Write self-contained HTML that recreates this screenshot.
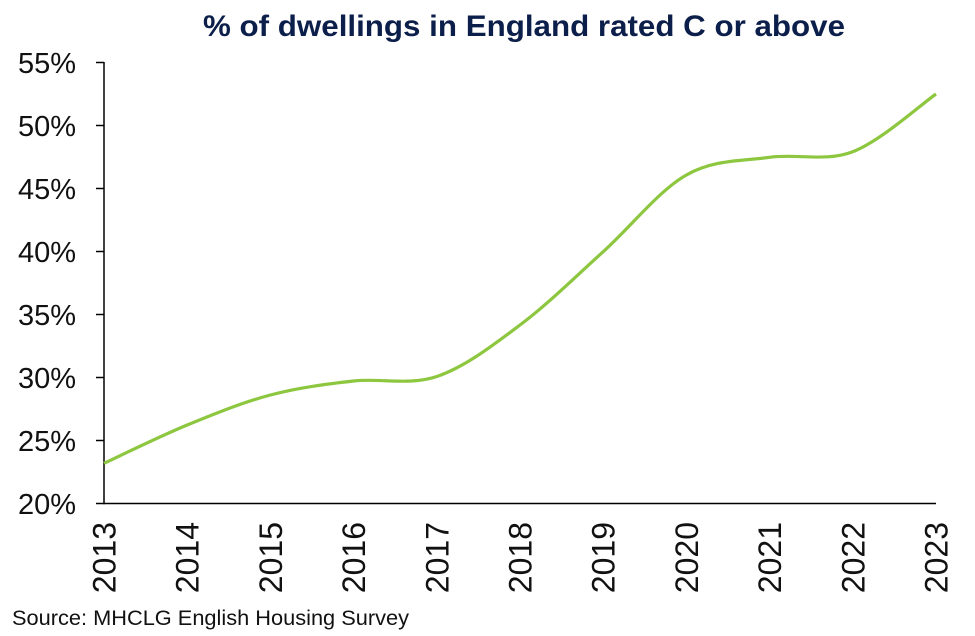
<!DOCTYPE html>
<html>
<head>
<meta charset="utf-8">
<style>
  html, body { margin: 0; padding: 0; background: #ffffff; }
  svg { display: block; }
</style>
</head>
<body>
<svg width="975" height="636" viewBox="0 0 975 636" xmlns="http://www.w3.org/2000/svg">
  <rect width="975" height="636" fill="#ffffff"/>
  <!-- Title -->
  <text x="524" y="36" text-anchor="middle" font-family="Liberation Sans, sans-serif" font-weight="bold" font-size="30" fill="#0c1e4a" textLength="642" lengthAdjust="spacingAndGlyphs">% of dwellings in England rated C or above</text>

  <!-- Y axis -->
  <g stroke="#000000" stroke-width="1.5" fill="none">
    <line x1="104" y1="62" x2="104" y2="504.2"/>
    <line x1="96" y1="62.5" x2="104" y2="62.5"/>
    <line x1="96" y1="125.5" x2="104" y2="125.5"/>
    <line x1="96" y1="188.5" x2="104" y2="188.5"/>
    <line x1="96" y1="251.5" x2="104" y2="251.5"/>
    <line x1="96" y1="314.5" x2="104" y2="314.5"/>
    <line x1="96" y1="377.5" x2="104" y2="377.5"/>
    <line x1="96" y1="440.5" x2="104" y2="440.5"/>
    <line x1="96" y1="503.5" x2="936" y2="503.5"/>
  </g>

  <!-- Y labels -->
  <g font-family="Liberation Sans, sans-serif" font-size="29" fill="#111111" text-anchor="end">
    <text x="76" y="73">55%</text>
    <text x="76" y="136">50%</text>
    <text x="76" y="199">45%</text>
    <text x="76" y="262">40%</text>
    <text x="76" y="325">35%</text>
    <text x="76" y="388">30%</text>
    <text x="76" y="451">25%</text>
    <text x="76" y="514">20%</text>
  </g>

  <!-- X labels -->
  <g font-family="Liberation Sans, sans-serif" font-size="32" fill="#111111" text-anchor="end">
    <text transform="translate(115.5,522) rotate(-90)">2013</text>
    <text transform="translate(198.7,522) rotate(-90)">2014</text>
    <text transform="translate(281.9,522) rotate(-90)">2015</text>
    <text transform="translate(365.1,522) rotate(-90)">2016</text>
    <text transform="translate(448.3,522) rotate(-90)">2017</text>
    <text transform="translate(531.5,522) rotate(-90)">2018</text>
    <text transform="translate(614.7,522) rotate(-90)">2019</text>
    <text transform="translate(697.9,522) rotate(-90)">2020</text>
    <text transform="translate(781.1,522) rotate(-90)">2021</text>
    <text transform="translate(864.3,522) rotate(-90)">2022</text>
    <text transform="translate(947.5,522) rotate(-90)">2023</text>
  </g>

  <!-- Series -->
  <path d="M104,463.3 C117.87,456.92 159.47,436.38 187.2,425
           C214.93,413.62 242.67,402.33 270.4,395
           C298.13,387.67 325.87,384.08 353.6,381
           C381.33,377.92 409.07,385.83 436.8,376.5
           C464.53,367.17 492.27,345.8 520,325
           C547.73,304.2 575.47,276.7 603.2,251.7
           C630.93,226.7 658.67,190.73 686.4,175
           C714.13,159.27 741.87,161.18 769.6,157.3
           C797.33,153.42 825.07,162.25 852.8,151.7
           C880.53,141.15 922.13,103.62 936,94"
        fill="none" stroke="#8dc63f" stroke-width="3.2" stroke-linecap="butt" stroke-linejoin="round"/>

  <!-- Source -->
  <text x="12" y="625" font-family="Liberation Sans, sans-serif" font-size="21" fill="#111111" textLength="397" lengthAdjust="spacingAndGlyphs">Source: MHCLG English Housing Survey</text>
</svg>
</body>
</html>
